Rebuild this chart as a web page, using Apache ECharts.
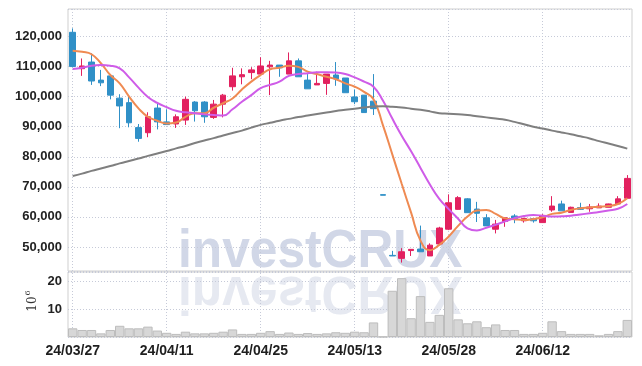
<!DOCTYPE html>
<html>
<head>
<meta charset="utf-8">
<script src="https://cdn.jsdelivr.net/npm/echarts@6/dist/echarts.min.js"></script>
<style>
  html, body { margin: 0; padding: 0; background: #fff; }
  #main { width: 642px; height: 366px; }
</style>
</head>
<body>
<div id="main"></div>
<script>
const dates = ['24/03/27', '24/03/28', '24/03/29', '24/04/01', '24/04/02', '24/04/03', '24/04/04', '24/04/05', '24/04/08', '24/04/09',
  '24/04/11', '24/04/12', '24/04/15', '24/04/16', '24/04/17', '24/04/18', '24/04/19', '24/04/22', '24/04/23', '24/04/24',
  '24/04/25', '24/04/26', '24/04/29', '24/04/30', '24/05/02', '24/05/03', '24/05/07', '24/05/08', '24/05/09', '24/05/10',
  '24/05/13', '24/05/14', '24/05/16', '24/05/17', '24/05/20', '24/05/21', '24/05/22', '24/05/23', '24/05/24', '24/05/27',
  '24/05/28', '24/05/29', '24/05/30', '24/05/31', '24/06/03', '24/06/04', '24/06/05', '24/06/07', '24/06/10', '24/06/11',
  '24/06/12', '24/06/13', '24/06/14', '24/06/17', '24/06/18', '24/06/19', '24/06/20', '24/06/21', '24/06/24', '24/06/25']

const opens = [121400, 109300, 111500, 105500, 106900, 99500, 98000, 89700, 88000, 96200,
  91600, 90900, 92200, 98200, 98200, 93100, 97500, 103300, 106600, 108000,
  107500, 109900, 110500, 107500, 111900, 105500, 103900, 104400, 107200, 106200,
  99900, 100500, 98500, 67400, 47200, 46200, 48800, 49300, 47000, 51000,
  55900, 62500, 66000, 62600, 59700, 55900, 58500, 60300, 58700, 59400,
  58100, 62300, 64300, 61500, 63100, 62700, 63000, 63200, 64300, 66200]
const closes = [110000, 110200, 105200, 104600, 100500, 96900, 91300, 86100, 93300, 91600,
  90700, 93300, 99100, 95300, 93300, 97500, 100500, 106900, 107300, 108900,
  110200, 110500, 109600, 111900, 106600, 102600, 104400, 107500, 105900, 101300,
  98300, 94700, 96000, 67200, 47000, 48400, 49200, 48400, 50600, 56300,
  64700, 66400, 61400, 61200, 57000, 57600, 59700, 59400, 59500, 58700,
  60500, 63600, 62000, 63200, 62500, 63300, 63600, 64300, 66000, 72800]
const lows = [109700, 106900, 103900, 103500, 99100, 89500, 89800, 85000, 86500, 89100,
  90600, 89600, 90600, 91700, 91300, 92600, 93100, 102000, 104100, 105800,
  107500, 100500, 106600, 107500, 106600, 102600, 103900, 100600, 103600, 101300,
  97500, 94700, 93900, 67200, 47000, 44800, 47000, 48400, 47000, 50900,
  55600, 62400, 61400, 58300, 57000, 54500, 56700, 57900, 58100, 58100,
  58100, 61700, 62000, 61500, 62300, 61700, 63000, 63200, 64300, 66200]
const highs = [122700, 112700, 114400, 108900, 106900, 100800, 100000, 90900, 94800, 97600,
  95800, 94100, 100000, 98500, 98500, 98900, 100900, 109600, 109400, 109800,
  113100, 111900, 110500, 114700, 112700, 107500, 108300, 107500, 111500, 106200,
  102400, 100500, 107500, 67400, 48700, 49600, 49200, 57100, 51200, 56700,
  67500, 66900, 66200, 65000, 60900, 59000, 59700, 60900, 59700, 59500,
  60900, 66900, 65400, 63400, 64700, 64300, 64500, 64400, 66900, 73900]

// 거래량, 단위 10^6
const volumes = [3.1, 2.5, 2.5, 1.3, 2.5, 4.0, 3.1, 3.1, 3.7, 2.3,
  1.5, 1.1, 1.9, 1.3, 1.3, 1.5, 1.9, 2.7, 1.1, 1.1,
  1.5, 2.1, 1.1, 1.6, 1.1, 1.4, 1.1, 1.3, 1.7, 1.5,
  1.9, 1.7, 5.2, 0.1, 16.5, 21.0, 6.7, 14.6, 5.4, 7.9,
  17.4, 6.3, 4.9, 5.6, 3.5, 4.5, 2.5, 2.5, 1.1, 1.1,
  1.5, 5.6, 2.1, 1.1, 1.1, 1.1, 0.6, 1.1, 2.1, 6.1]

const ma5 = [115300, 114900, 114100, 111100, 107200, 104400, 100000, 96100, 93300, 92000,
  91100, 91400, 93300, 94500, 94500, 96300, 97800, 99400, 102400, 105000,
  107200, 109100, 109600, 110300, 109900, 108300, 107500, 106600, 105800, 104400,
  103300, 101600, 99100, 90500, 80800, 71000, 61400, 52100, 48900, 50700,
  53500, 57000, 60100, 62100, 62300, 61000, 59500, 59200, 59000, 59300,
  59900, 61000, 61400, 62300, 62900, 63100, 63400, 63600, 64300, 66200]
const ma10 = [109200, 109600, 110300, 110500, 110300, 109400, 106400, 103000, 99900, 97900,
  96500, 95300, 94800, 94500, 94100, 93900, 93700, 95800, 98300, 100500,
  102800, 103900, 105000, 106900, 107500, 107800, 108100, 108100, 108000, 107500,
  106400, 105000, 103300, 98700, 92700, 87000, 81800, 76300, 70800, 66000,
  62600, 59400, 56200, 55500, 56400, 57400, 58500, 59600, 60300, 60600,
  60400, 60100, 60200, 60400, 60800, 61200, 61600, 62100, 62700, 64300]
const ma60 = [73600, 74400, 75300, 76100, 76900, 77800, 78600, 79400, 80300, 81100,
  81900, 82800, 83600, 84600, 85400, 86200, 87100, 87900, 88700, 89700,
  90600, 91300, 92000, 92600, 93200, 93700, 94200, 94700, 95200, 95600,
  96000, 96400, 96700, 96800, 96600, 96400, 96000, 95600, 95100, 94500,
  94300, 94100, 93900, 93500, 93100, 92700, 92300, 91600, 90800, 90000,
  89400, 88700, 88100, 87500, 86800, 86100, 85200, 84400, 83600, 82700]

const candleData = opens.map((o, i) => [o, closes[i], lows[i], highs[i]])
// x축 라벨이 찍히는 날짜 (10 거래일 간격)
const labelDates = dates.filter((d, i) => i % 10 === 0)

const upColor = '#e2215f'
const downColor = '#3090c7'
const dotLine = { color: '#c6cad8', type: [1, 2], width: 1 }
const labelFont = "'Liberation Sans', Arial, sans-serif"

const vLines = {
  silent: true,
  symbol: 'none',
  label: { show: false },
  lineStyle: dotLine,
  z: 0,
  data: labelDates.map(d => ({ xAxis: d }))
}

const chart = echarts.init(document.getElementById('main'))

const option = {
  animation: false,
  graphic: [
    {
      type: 'text', x: 178, y: 272, scaleX: 0.92, z: -10, silent: true,
      style: { text: 'investCRUX', x: 0, y: -19.5, textVerticalAlign: 'middle',
        font: 'bold 54px "Liberation Sans", Arial, sans-serif', fill: '#d1d7e7' }
    },
    {
      // 반사 효과
      type: 'text', x: 178, y: 272, scaleX: 0.92, scaleY: -1, z: -10, silent: true,
      style: { text: 'investCRUX', x: 0, y: -19.5, textVerticalAlign: 'middle',
        font: 'bold 54px "Liberation Sans", Arial, sans-serif', fill: '#e6e9f1' }
    },
    {
      type: 'text', x: 33, y: 304, rotation: Math.PI / 2,
      style: { text: '10', textAlign: 'center', textVerticalAlign: 'middle',
        font: '12px "DejaVu Serif", serif', fill: '#333' }
    },
    {
      type: 'text', x: 28, y: 293, rotation: Math.PI / 2,
      style: { text: '6', textAlign: 'center', textVerticalAlign: 'middle',
        font: '8px "DejaVu Serif", serif', fill: '#333' }
    }
  ],
  grid: [
    { left: 68, right: 10, top: 9, height: 262, show: true, borderColor: '#cfcfcf', borderWidth: 1 },
    { left: 68, right: 10, top: 272, height: 65, show: true, borderColor: '#cfcfcf', borderWidth: 1 }
  ],
  xAxis: [
    {
      type: 'category', gridIndex: 0, data: dates,
      axisLine: { show: false }, axisTick: { show: false }, axisLabel: { show: false },
      splitLine: { show: false }
    },
    {
      type: 'category', gridIndex: 1, data: dates,
      axisLine: { show: false }, axisTick: { show: false },
      axisLabel: { interval: 9, margin: 7, fontSize: 14, fontWeight: 'bold', color: '#1e1e1e', fontFamily: labelFont },
      splitLine: { show: false }
    }
  ],
  yAxis: [
    {
      type: 'value', gridIndex: 0, min: 42000, max: 129150, splitNumber: 8,
      axisLine: { show: false }, axisTick: { show: false },
      axisLabel: {
        margin: 6, fontSize: 13, fontWeight: 'bold', color: '#222', fontFamily: labelFont,
        showMinLabel: false, showMaxLabel: false,
        formatter: v => v.toLocaleString('en-US')
      },
      splitLine: { show: true, lineStyle: dotLine }
    },
    {
      type: 'value', gridIndex: 1, min: 0, max: 23.2, interval: 10,
      axisLine: { show: false }, axisTick: { show: false },
      axisLabel: {
        margin: 6, fontSize: 13, fontWeight: 'bold', color: '#222', fontFamily: labelFont,
        showMinLabel: false, showMaxLabel: false
      },
      splitLine: { show: true, lineStyle: dotLine }
    }
  ],
  series: [
    {
      type: 'candlestick', name: 'price', xAxisIndex: 0, yAxisIndex: 0,
      data: candleData, barWidth: 6,
      itemStyle: { color: upColor, color0: downColor, borderColor: upColor, borderColor0: downColor, borderWidth: 1 },
      markLine: vLines
    },
    {
      type: 'line', name: 'MA5', data: ma5, smooth: true, showSymbol: false,
      lineStyle: { color: '#ef8a52', width: 2 }, z: 3
    },
    {
      type: 'line', name: 'MA10', data: ma10, smooth: true, showSymbol: false,
      lineStyle: { color: '#cf5ce8', width: 2 }, z: 3
    },
    {
      type: 'line', name: 'MA60', data: ma60, smooth: true, showSymbol: false,
      lineStyle: { color: '#7f7f7f', width: 2 }, z: 3
    },
    {
      type: 'bar', name: 'volume', xAxisIndex: 1, yAxisIndex: 1, data: volumes,
      barWidth: '100%',
      itemStyle: { color: '#d7d7d7', borderColor: '#bdbdbd', borderWidth: 1 },
      markLine: vLines
    }
  ]
}

chart.setOption(option)
</script>
</body>
</html>
